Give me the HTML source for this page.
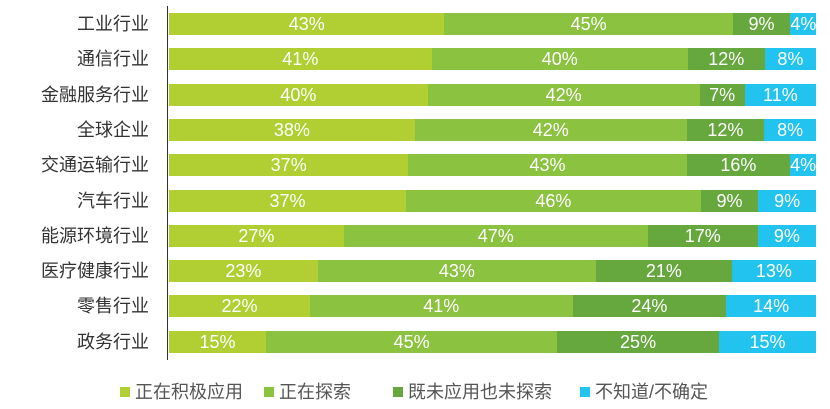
<!DOCTYPE html>
<html><head><meta charset="utf-8"><style>
body{margin:0;width:830px;height:409px;background:#fff;position:relative;overflow:hidden;font-family:"Liberation Sans","Noto Sans CJK SC",sans-serif}
.lab{position:absolute;right:681px;font-size:18px;color:#333;white-space:nowrap;line-height:22px}
.bar{position:absolute;left:169px;width:647px;height:22px;display:flex}
.bar div{height:22px;color:#fff;font-size:18px;line-height:23px;text-align:center;white-space:nowrap;overflow:visible}
.a{background:#b1cf32}.b{background:#8bc240}.c{background:#66a83d}.d{background:#22c4ef}
#ax{position:absolute;left:167px;top:6px;width:1px;height:354px;background:#333}
.lg{position:absolute;top:382px;font-size:18px;color:#555;line-height:20px}
.lg i{display:inline-block;width:10px;height:10px;margin-right:5px;vertical-align:1px}
</style></head><body>
<div id="ax"></div>
<div id="c"></div>
<div class="lg" style="left:120px"><i class="a"></i>正在积极应用</div>
<div class="lg" style="left:264px"><i class="b"></i>正在探索</div>
<div class="lg" style="left:393px"><i class="c"></i>既未应用也未探索</div>
<div class="lg" style="left:580px"><i class="d"></i>不知道/不确定</div>
<script>
var d=[["工业行业",43,45,9,4],["通信行业",41,40,12,8],["金融服务行业",40,42,7,11],["全球企业",38,42,12,8],["交通运输行业",37,43,16,4],["汽车行业",37,46,9,9],["能源环境行业",27,47,17,9],["医疗健康行业",23,43,21,13],["零售行业",22,41,24,14],["政务行业",15,45,25,15]];
var h="";d.forEach(function(r,i){var t=13+i*35.3;var s=r[1]+r[2]+r[3]+r[4];
h+='<div class="lab" style="top:'+(t)+'px">'+r[0]+'</div><div class="bar" style="top:'+t+'px">';
["a","b","c","d"].forEach(function(c,j){h+='<div class="'+c+'" style="width:'+(r[j+1]/s*647)+'px">'+r[j+1]+'%</div>'});h+='</div>';});
document.getElementById("c").innerHTML=h;
</script>
</body></html>
